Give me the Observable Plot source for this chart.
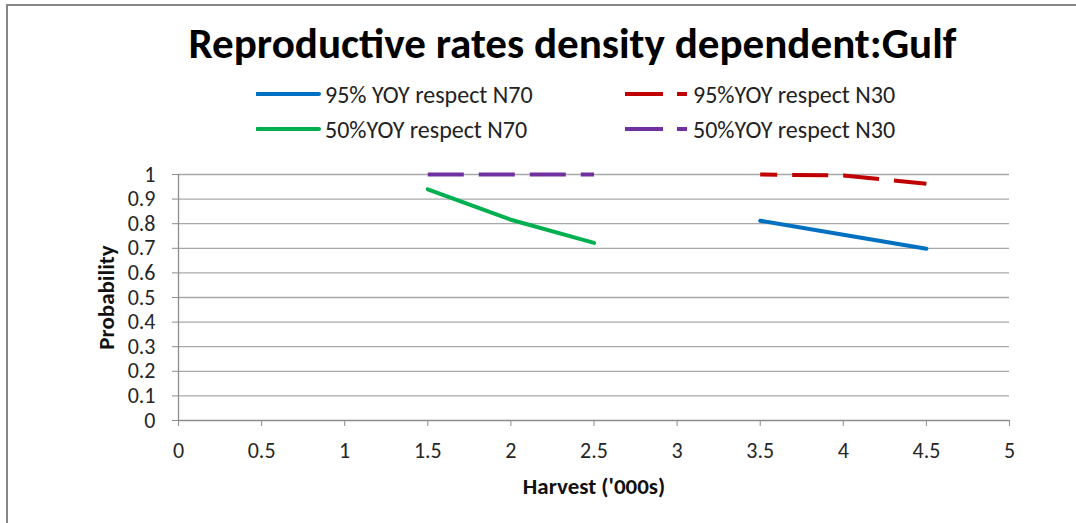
<!DOCTYPE html>
<html>
<head>
<meta charset="utf-8">
<script src="https://cdn.jsdelivr.net/npm/d3@7"></script>
<script src="https://cdn.jsdelivr.net/npm/@observablehq/plot@0.6"></script>
<style>
  html, body { margin: 0; padding: 0; background: #fff; }
  body { width: 1076px; height: 523px; position: relative; overflow: hidden;
         font-family: Carlito, "Liberation Sans Narrow", "Open Sans", sans-serif; }
  #frame { position: absolute; left: 6px; top: 4px; width: 1080px; height: 530px;
           border-left: 2px solid #868686; border-top: 2px solid #868686; }
  #title { position: absolute; left: 34px; top: 19px; width: 1076px; text-align: center;
           font-weight: bold; font-size: 42px; color: #000; white-space: nowrap; line-height: 1.2; }
  #title span { display: inline-block; transform-origin: center; }
  .leg { position: absolute; display: flex; align-items: center; font-size: 24px; color: #222; white-space: nowrap; }
  .leg svg { margin-right: 3px; }
  #chart { position: absolute; left: 0; top: 150px; }
</style>
</head>
<body>
<div id="frame"></div>
<div id="title"><span>Reproductive rates density dependent:Gulf</span></div>
<div id="legend"></div>
<div id="chart"></div>
<script>
const harvest = [1.5, 2.0, 2.5, 3.5, 4.0, 4.5];
const seriesNames = ["95% YOY respect N70", "95%YOY respect N30", "50%YOY respect N70", "50%YOY respect N30"];
const seriesColors = ["#0070C0", "#C00000", "#00B050", "#7030A0"];
const seriesDash = [null, "36,15", null, "36,15"];
const seriesDashOffset = [0, 19, 0, 0];
const blue95N70 = [null, null, null, 0.812, 0.755, 0.698];
const red95N30 = [null, null, null, 1.0, 0.996, 0.962];
const green50N70 = [0.94, 0.816, 0.722, null, null, null];
const purple50N30 = [1.0, 1.0, 1.0, null, null, null];
const xTicks = [0, 0.5, 1, 1.5, 2, 2.5, 3, 3.5, 4, 4.5, 5];
const yTicks = [0, 0.1, 0.2, 0.3, 0.4, 0.5, 0.6, 0.7, 0.8, 0.9, 1];
const xLabel = "Harvest ('000s)";
const yLabel = "Probability";

const seriesValues = [blue95N70, red95N30, green50N70, purple50N30];
const font = 'Carlito, "Liberation Sans Narrow", "Open Sans", sans-serif';

// legend
const legendPos = [[256, 94], [624, 94], [256, 129], [624, 129]];
const legend = document.getElementById("legend");
seriesNames.forEach((name, i) => {
  const d = document.createElement("div");
  d.className = "leg";
  d.style.left = legendPos[i][0] + "px";
  d.style.top = (legendPos[i][1] - 15) + "px";
  d.style.height = "30px";
  const dash = seriesDash[i] ? 'stroke-dasharray="38,14" stroke-linecap="butt"' : 'stroke-linecap="round"';
  d.innerHTML = `<svg width="66" height="10"><line x1="1" x2="63" y1="5" y2="5" stroke="${seriesColors[i]}" stroke-width="4" ${dash}/></svg><span>${name}</span>`;
  legend.appendChild(d);
});

const rows = [];
seriesValues.forEach((vals, s) => {
  vals.forEach((v, j) => { if (v != null) rows.push({series: seriesNames[s], x: harvest[j], y: v}); });
});

const plot = Plot.plot({
  width: 1076,
  height: 373,
  marginTop: 24,
  marginBottom: 103,
  marginLeft: 178,
  marginRight: 67,
  style: {fontFamily: font, fontSize: "22px", color: "#262626", background: "transparent", overflow: "visible"},
  x: {domain: [0, 5], ticks: xTicks},
  y: {domain: [0, 1], ticks: yTicks},
  marks: [
    Plot.ruleY(yTicks.filter(t => t > 0), {stroke: "#a8a8a8", strokeWidth: 1.3, strokeOpacity: 1}),
    Plot.ruleY([0], {stroke: "#8c8c8c", strokeWidth: 1.3}),
    Plot.ruleX([0], {stroke: "#8c8c8c", strokeWidth: 1.3}),
    Plot.axisX({ticks: xTicks, tickSize: 6, stroke: "#8c8c8c", strokeOpacity: 1, tickFormat: () => "", label: null}),
    Plot.axisY({ticks: yTicks, tickSize: 6, stroke: "#8c8c8c", strokeOpacity: 1, tickFormat: () => "", label: null}),
    Plot.text(xTicks, {x: d => d, frameAnchor: "bottom", lineAnchor: "top", dy: 22,
      text: d => String(d), fontSize: 22, fill: "#262626"}),
    Plot.text(yTicks, {y: d => d, frameAnchor: "left", textAnchor: "end", dx: -23,
      text: d => String(d), fontSize: 22, fill: "#262626"}),
    ...seriesNames.map((name, s) => Plot.line(rows.filter(r => r.series === name), {
      x: "x", y: "y", stroke: seriesColors[s], strokeWidth: 4,
      strokeDasharray: seriesDash[s] || undefined, strokeDashoffset: seriesDashOffset[s],
      strokeLinecap: seriesDash[s] ? "butt" : "round"
    })),
    Plot.text([xLabel], {frameAnchor: "bottom", lineAnchor: "bottom", dy: 73, fontWeight: "bold", fontSize: 23, fill: "#111"}),
    Plot.text([yLabel], {frameAnchor: "left", textAnchor: "middle", lineAnchor: "middle", dx: -72, rotate: -90,
      fontWeight: "bold", fontSize: 23, fill: "#111"})
  ]
});
document.getElementById("chart").appendChild(plot);

// fit title width to the reference's span
const t = document.querySelector("#title span");
const w = t.getBoundingClientRect().width;
t.style.transform = `scaleX(${768 / w})`;
</script>
</body>
</html>
